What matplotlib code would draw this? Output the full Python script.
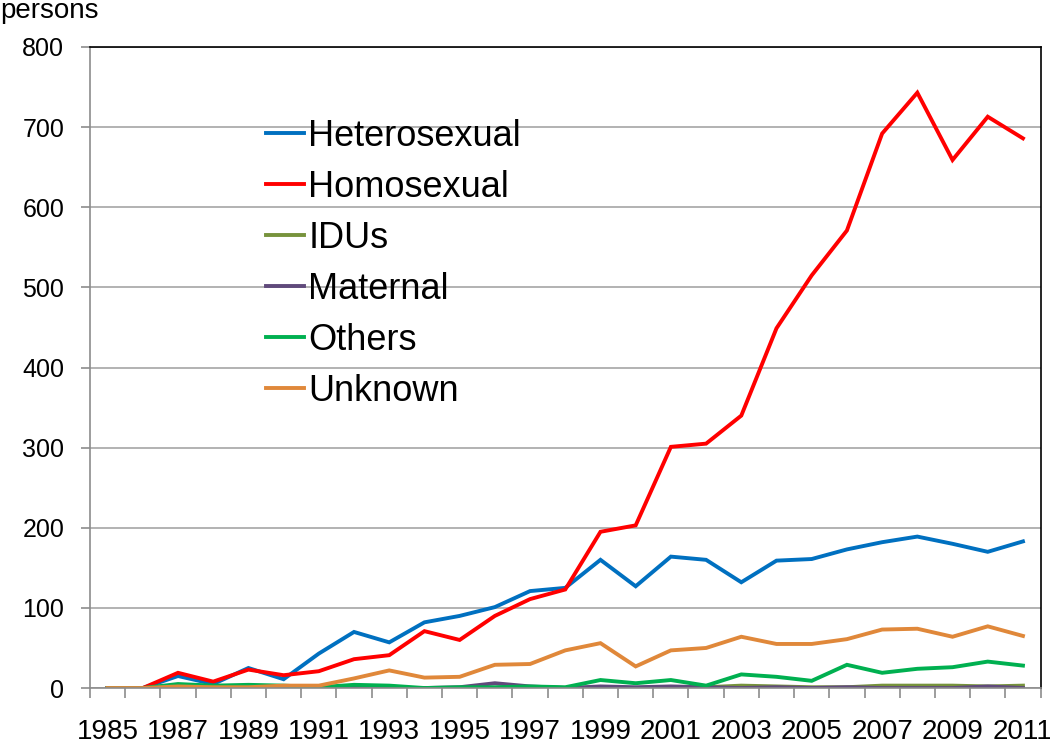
import matplotlib.pyplot as plt
import numpy as np

plt.rcParams['font.family'] = ['Liberation Sans', 'DejaVu Sans']

years = list(range(1985, 2012))
heterosexual = [0, 0, 15, 5, 25, 11, 43, 70, 57, 82, 90, 101, 121, 125, 160, 127,
                164, 160, 132, 159, 161, 173, 182, 189, 180, 170, 183]
homosexual = [0, 0, 19, 8, 23, 16, 21, 36, 41, 71, 60, 90, 111, 123, 195, 203,
              301, 305, 340, 449, 515, 571, 692, 743, 659, 713, 686]
idus = [0, 0, 0, 0, 0, 0, 0, 0, 0, 0, 0, 0, 1, 0, 0, 0,
        1, 1, 3, 2, 1, 1, 3, 3, 3, 2, 3]
maternal = [0, 0, 0, 0, 0, 2, 0, 0, 0, 0, 1, 6, 2, 0, 2, 1,
            2, 1, 0, 1, 0, 1, 0, 0, 0, 2, 0]
others = [0, 0, 5, 3, 4, 3, 1, 4, 3, 0, 1, 1, 2, 1, 10, 6,
          10, 3, 17, 14, 9, 29, 19, 24, 26, 33, 28]
unknown = [0, 0, 2, 1, 1, 3, 3, 12, 22, 13, 14, 29, 30, 47, 56, 27,
           47, 50, 64, 55, 55, 61, 73, 74, 64, 77, 65]

series = [
    ('Heterosexual', heterosexual, '#0070C0'),
    ('Homosexual', homosexual, '#FF0000'),
    ('IDUs', idus, '#77933C'),
    ('Maternal', maternal, '#604A7B'),
    ('Others', others, '#00B050'),
    ('Unknown', unknown, '#E0883A'),
]

fig = plt.figure(figsize=(10.5, 7.46), dpi=100)
ax = fig.add_axes([0.0857, 0.0777, 0.9053, 0.8593])

x = np.arange(len(years))
for name, vals, color in series:
    ax.plot(x, vals, color=color, lw=2.8, label=name, solid_joinstyle='miter')

ax.set_ylim(0, 800)
ax.set_xlim(-0.5, len(years) - 0.5)
ax.set_yticks(range(0, 801, 100))
ax.yaxis.grid(True, color='#A6A6A6', lw=1.2)
ax.set_axisbelow(True)

# ticks between categories, labels every other year
ax.set_xticks(np.arange(-0.5, len(years)), minor=True)
ax.set_xticks(x[::2])
ax.set_xticklabels([str(y) for y in years[::2]])
ax.tick_params(axis='x', which='major', length=0, pad=22, labelsize=20)
ax.tick_params(axis='x', which='minor', length=7, width=1.2, color='#8C8C8C')
ax.tick_params(axis='y', length=6.5, width=1.2, color='#8C8C8C', labelsize=18, pad=12)

for s in ['left', 'bottom']:
    ax.spines[s].set_color('#8C8C8C')
    ax.spines[s].set_linewidth(1.2)
for s in ['top', 'right']:
    ax.spines[s].set_color('black')
    ax.spines[s].set_linewidth(1.2)

fig.text(0.0, 0.985, 'persons', fontsize=20, ha='left', va='center')

ax.legend(loc='upper left', bbox_to_anchor=(0.17, 0.91), frameon=False,
          fontsize=26, handlelength=1.05, handletextpad=0.12, labelspacing=0.44,
          borderaxespad=0)

fig.savefig('out.png', dpi=100)
